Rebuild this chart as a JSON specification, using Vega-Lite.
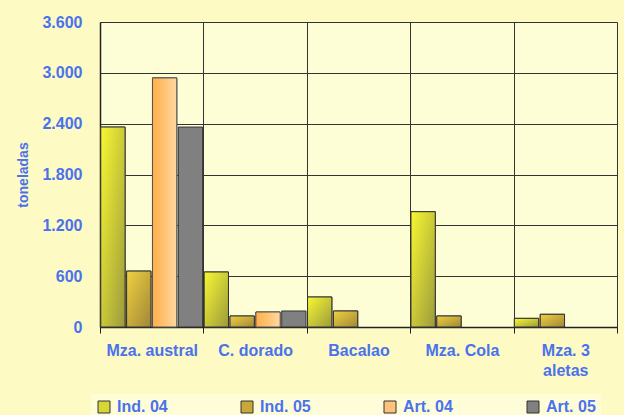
{
  "$schema": "https://vega.github.io/schema/vega-lite/v6.json",
  "width": 517,
  "height": 305,
  "autosize": {"type": "none"},
  "padding": {"left": 100, "top": 22, "right": 7, "bottom": 88},
  "background": "#fdfac4",
  "data": {
    "values": [
      {"especie": "Mza. austral", "serie": "Ind. 04", "toneladas": 2360},
      {"especie": "Mza. austral", "serie": "Ind. 05", "toneladas": 660},
      {"especie": "Mza. austral", "serie": "Art. 04", "toneladas": 2940},
      {"especie": "Mza. austral", "serie": "Art. 05", "toneladas": 2360},
      {"especie": "C. dorado", "serie": "Ind. 04", "toneladas": 649},
      {"especie": "C. dorado", "serie": "Ind. 05", "toneladas": 130},
      {"especie": "C. dorado", "serie": "Art. 04", "toneladas": 177},
      {"especie": "C. dorado", "serie": "Art. 05", "toneladas": 189},
      {"especie": "Bacalao", "serie": "Ind. 04", "toneladas": 354},
      {"especie": "Bacalao", "serie": "Ind. 05", "toneladas": 189},
      {"especie": "Mza. Cola", "serie": "Ind. 04", "toneladas": 1361},
      {"especie": "Mza. Cola", "serie": "Ind. 05", "toneladas": 130},
      {"especie": "Mza. 3 aletas", "serie": "Ind. 04", "toneladas": 102},
      {"especie": "Mza. 3 aletas", "serie": "Ind. 05", "toneladas": 150}
    ]
  },
  "encoding": {
    "x": {
      "field": "especie",
      "type": "nominal",
      "sort": ["Mza. austral", "C. dorado", "Bacalao", "Mza. Cola", "Mza. 3 aletas"],
      "scale": {"paddingInner": 0, "paddingOuter": 0},
      "axis": {
        "title": null,
        "labelAngle": 0,
        "tickBand": "extent",
        "grid": true,
        "gridColor": "#333333",
        "gridWidth": 1,
        "ticks": true,
        "tickSize": 6,
        "tickColor": "#222222",
        "domainColor": "#222222",
        "domainWidth": 1.5,
        "labelPadding": 9,
        "labelFont": "Arial",
        "labelFontSize": 16,
        "labelFontWeight": "bold",
        "labelColor": "#4a72ee",
        "labelLineHeight": 20,
        "labelBaseline": "top",
        "labelExpr": "datum.label == 'Mza. 3 aletas' ? ['Mza. 3', 'aletas'] : datum.label"
      }
    },
    "xOffset": {
      "field": "serie",
      "type": "nominal",
      "sort": ["Ind. 04", "Ind. 05", "Art. 04", "Art. 05"],
      "scale": {"domain": ["Ind. 04", "Ind. 05", "Art. 04", "Art. 05"], "paddingInner": 0.06, "paddingOuter": 0.03}
    },
    "y": {
      "field": "toneladas",
      "type": "quantitative",
      "scale": {"domain": [0, 3600], "nice": false},
      "axis": {
        "title": "toneladas",
        "values": [0, 600, 1200, 1800, 2400, 3000, 3600],
        "labelExpr": "replace(format(datum.value, ','), ',', '.')",
        "grid": true,
        "gridColor": "#333333",
        "gridWidth": 1,
        "ticks": false,
        "domainColor": "#222222",
        "domainWidth": 1.5,
        "labelPadding": 18,
        "labelFont": "Arial",
        "labelFontSize": 16,
        "labelFontWeight": "bold",
        "labelColor": "#4a72ee",
        "titleFont": "Arial",
        "titleFontSize": 14,
        "titleFontWeight": "bold",
        "titleColor": "#4a72ee",
        "titlePadding": 11
      }
    }
  },
  "layer": [
    {
      "mark": {"type": "bar", "stroke": "#333333", "strokeWidth": 1},
      "encoding": {
        "color": {
          "field": "serie",
          "type": "nominal",
          "scale": {
            "domain": ["Ind. 04", "Ind. 05", "Art. 04", "Art. 05"],
            "range": ["#d6d636", "#c8a83a", "#ffc27c", "#808080"]
          },
          "legend": {
            "title": null,
            "orient": "none",
            "legendX": -9,
            "legendY": 372,
            "direction": "horizontal",
            "columns": 4,
            "gridAlign": "all",
            "columnPadding": 71,
            "symbolType": "square",
            "symbolSize": 144,
            "symbolStrokeColor": "#333333",
            "symbolStrokeWidth": 1,
            "symbolOpacity": 1,
            "labelOffset": 5,
            "labelFont": "Arial",
            "labelFontSize": 16,
            "labelFontWeight": "bold",
            "labelColor": "#4a72ee",
            "padding": 5,
            "fillColor": "#fefdd8"
          }
        }
      }
    },
    {
      "transform": [{"filter": "datum.serie == 'Ind. 04'"}],
      "mark": {"type": "bar", "stroke": "#333333", "strokeWidth": 1, "color": {"gradient": "linear", "x1": 0, "y1": 0, "x2": 1, "y2": 1, "stops": [{"offset": 0, "color": "#f8f832"}, {"offset": 1, "color": "#9c9a3c"}]}}
    },
    {
      "transform": [{"filter": "datum.serie == 'Ind. 05'"}],
      "mark": {"type": "bar", "stroke": "#333333", "strokeWidth": 1, "color": {"gradient": "linear", "x1": 0, "y1": 0, "x2": 1, "y2": 1, "stops": [{"offset": 0, "color": "#f0d040"}, {"offset": 1, "color": "#a08838"}]}}
    },
    {
      "transform": [{"filter": "datum.serie == 'Art. 04'"}],
      "mark": {"type": "bar", "stroke": "#555555", "strokeWidth": 1, "color": {"gradient": "linear", "x1": 0, "y1": 0, "x2": 1, "y2": 0, "stops": [{"offset": 0, "color": "#ffae48"}, {"offset": 1, "color": "#ffd8a0"}]}}
    }
  ],
  "config": {
    "view": {"fill": "#fefed6", "stroke": null}
  }
}
